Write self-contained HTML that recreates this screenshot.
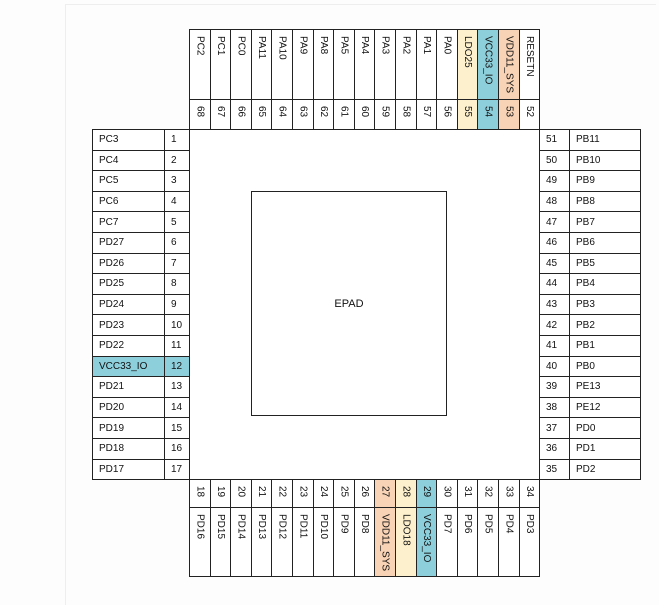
<!DOCTYPE html>
<html><head><meta charset="utf-8"><style>
body{margin:0;width:659px;height:596px;background:#fdfdfd;position:relative;overflow:hidden;font-family:"Liberation Sans",Arial,sans-serif;font-size:10px;color:#111}
.b{position:absolute;box-sizing:border-box;border:1px solid #222;background:#fff}
.h{display:flex;align-items:center;padding-left:6px}
.v{writing-mode:vertical-rl;display:flex;align-items:center;padding-top:6px}
.y{background:#fdf0cc}.c{background:#8ecfdc}.o{background:#f9d3b5}
</style></head><body>
<div style="position:absolute;left:65px;top:4px;width:590px;height:600px;border-left:1px solid #eee;border-top:1px solid #eee"></div>
<div class="b" style="left:189px;top:129px;width:351px;height:351px"></div>
<div class="b" style="left:251px;top:191px;width:196px;height:225px;border-width:1.5px;display:flex;align-items:center;justify-content:center;font-size:11px">EPAD</div>

<!-- top -->
<div class="b v" style="left:189.0px;top:29px;width:21.6px;height:71px">PC2</div><div class="b v" style="left:189.0px;top:99px;width:21.6px;height:31px">68</div>
<div class="b v" style="left:209.6px;top:29px;width:21.6px;height:71px">PC1</div><div class="b v" style="left:209.6px;top:99px;width:21.6px;height:31px">67</div>
<div class="b v" style="left:230.2px;top:29px;width:21.6px;height:71px">PC0</div><div class="b v" style="left:230.2px;top:99px;width:21.6px;height:31px">66</div>
<div class="b v" style="left:250.8px;top:29px;width:21.6px;height:71px">PA11</div><div class="b v" style="left:250.8px;top:99px;width:21.6px;height:31px">65</div>
<div class="b v" style="left:271.4px;top:29px;width:21.6px;height:71px">PA10</div><div class="b v" style="left:271.4px;top:99px;width:21.6px;height:31px">64</div>
<div class="b v" style="left:292.0px;top:29px;width:21.6px;height:71px">PA9</div><div class="b v" style="left:292.0px;top:99px;width:21.6px;height:31px">63</div>
<div class="b v" style="left:312.6px;top:29px;width:21.6px;height:71px">PA8</div><div class="b v" style="left:312.6px;top:99px;width:21.6px;height:31px">62</div>
<div class="b v" style="left:333.2px;top:29px;width:21.6px;height:71px">PA5</div><div class="b v" style="left:333.2px;top:99px;width:21.6px;height:31px">61</div>
<div class="b v" style="left:353.8px;top:29px;width:21.6px;height:71px">PA4</div><div class="b v" style="left:353.8px;top:99px;width:21.6px;height:31px">60</div>
<div class="b v" style="left:374.4px;top:29px;width:21.6px;height:71px">PA3</div><div class="b v" style="left:374.4px;top:99px;width:21.6px;height:31px">59</div>
<div class="b v" style="left:395.0px;top:29px;width:21.6px;height:71px">PA2</div><div class="b v" style="left:395.0px;top:99px;width:21.6px;height:31px">58</div>
<div class="b v" style="left:415.6px;top:29px;width:21.6px;height:71px">PA1</div><div class="b v" style="left:415.6px;top:99px;width:21.6px;height:31px">57</div>
<div class="b v" style="left:436.2px;top:29px;width:21.6px;height:71px">PA0</div><div class="b v" style="left:436.2px;top:99px;width:21.6px;height:31px">56</div>
<div class="b v y" style="left:456.8px;top:29px;width:21.6px;height:71px">LDO25</div><div class="b v y" style="left:456.8px;top:99px;width:21.6px;height:31px">55</div>
<div class="b v c" style="left:477.4px;top:29px;width:21.6px;height:71px">VCC33_IO</div><div class="b v c" style="left:477.4px;top:99px;width:21.6px;height:31px">54</div>
<div class="b v o" style="left:498.0px;top:29px;width:21.6px;height:71px">VDD11_SYS</div><div class="b v o" style="left:498.0px;top:99px;width:21.6px;height:31px">53</div>
<div class="b v" style="left:518.6px;top:29px;width:21.4px;height:71px">RESETN</div><div class="b v" style="left:518.6px;top:99px;width:21.4px;height:31px">52</div>

<!-- left -->
<div class="b h" style="left:92px;top:129.0px;width:73px;height:21.6px">PC3</div><div class="b h" style="left:164px;top:129.0px;width:26px;height:21.6px">1</div>
<div class="b h" style="left:92px;top:149.6px;width:73px;height:21.6px">PC4</div><div class="b h" style="left:164px;top:149.6px;width:26px;height:21.6px">2</div>
<div class="b h" style="left:92px;top:170.2px;width:73px;height:21.6px">PC5</div><div class="b h" style="left:164px;top:170.2px;width:26px;height:21.6px">3</div>
<div class="b h" style="left:92px;top:190.8px;width:73px;height:21.6px">PC6</div><div class="b h" style="left:164px;top:190.8px;width:26px;height:21.6px">4</div>
<div class="b h" style="left:92px;top:211.4px;width:73px;height:21.6px">PC7</div><div class="b h" style="left:164px;top:211.4px;width:26px;height:21.6px">5</div>
<div class="b h" style="left:92px;top:232.0px;width:73px;height:21.6px">PD27</div><div class="b h" style="left:164px;top:232.0px;width:26px;height:21.6px">6</div>
<div class="b h" style="left:92px;top:252.6px;width:73px;height:21.6px">PD26</div><div class="b h" style="left:164px;top:252.6px;width:26px;height:21.6px">7</div>
<div class="b h" style="left:92px;top:273.2px;width:73px;height:21.6px">PD25</div><div class="b h" style="left:164px;top:273.2px;width:26px;height:21.6px">8</div>
<div class="b h" style="left:92px;top:293.8px;width:73px;height:21.6px">PD24</div><div class="b h" style="left:164px;top:293.8px;width:26px;height:21.6px">9</div>
<div class="b h" style="left:92px;top:314.4px;width:73px;height:21.6px">PD23</div><div class="b h" style="left:164px;top:314.4px;width:26px;height:21.6px">10</div>
<div class="b h" style="left:92px;top:335.0px;width:73px;height:21.6px">PD22</div><div class="b h" style="left:164px;top:335.0px;width:26px;height:21.6px">11</div>
<div class="b h c" style="left:92px;top:355.6px;width:73px;height:21.6px">VCC33_IO</div><div class="b h c" style="left:164px;top:355.6px;width:26px;height:21.6px">12</div>
<div class="b h" style="left:92px;top:376.2px;width:73px;height:21.6px">PD21</div><div class="b h" style="left:164px;top:376.2px;width:26px;height:21.6px">13</div>
<div class="b h" style="left:92px;top:396.8px;width:73px;height:21.6px">PD20</div><div class="b h" style="left:164px;top:396.8px;width:26px;height:21.6px">14</div>
<div class="b h" style="left:92px;top:417.4px;width:73px;height:21.6px">PD19</div><div class="b h" style="left:164px;top:417.4px;width:26px;height:21.6px">15</div>
<div class="b h" style="left:92px;top:438.0px;width:73px;height:21.6px">PD18</div><div class="b h" style="left:164px;top:438.0px;width:26px;height:21.6px">16</div>
<div class="b h" style="left:92px;top:458.6px;width:73px;height:21.4px">PD17</div><div class="b h" style="left:164px;top:458.6px;width:26px;height:21.4px">17</div>

<!-- right -->
<div class="b h" style="left:539px;top:129.0px;width:31px;height:21.6px">51</div><div class="b h" style="left:569px;top:129.0px;width:72px;height:21.6px">PB11</div>
<div class="b h" style="left:539px;top:149.6px;width:31px;height:21.6px">50</div><div class="b h" style="left:569px;top:149.6px;width:72px;height:21.6px">PB10</div>
<div class="b h" style="left:539px;top:170.2px;width:31px;height:21.6px">49</div><div class="b h" style="left:569px;top:170.2px;width:72px;height:21.6px">PB9</div>
<div class="b h" style="left:539px;top:190.8px;width:31px;height:21.6px">48</div><div class="b h" style="left:569px;top:190.8px;width:72px;height:21.6px">PB8</div>
<div class="b h" style="left:539px;top:211.4px;width:31px;height:21.6px">47</div><div class="b h" style="left:569px;top:211.4px;width:72px;height:21.6px">PB7</div>
<div class="b h" style="left:539px;top:232.0px;width:31px;height:21.6px">46</div><div class="b h" style="left:569px;top:232.0px;width:72px;height:21.6px">PB6</div>
<div class="b h" style="left:539px;top:252.6px;width:31px;height:21.6px">45</div><div class="b h" style="left:569px;top:252.6px;width:72px;height:21.6px">PB5</div>
<div class="b h" style="left:539px;top:273.2px;width:31px;height:21.6px">44</div><div class="b h" style="left:569px;top:273.2px;width:72px;height:21.6px">PB4</div>
<div class="b h" style="left:539px;top:293.8px;width:31px;height:21.6px">43</div><div class="b h" style="left:569px;top:293.8px;width:72px;height:21.6px">PB3</div>
<div class="b h" style="left:539px;top:314.4px;width:31px;height:21.6px">42</div><div class="b h" style="left:569px;top:314.4px;width:72px;height:21.6px">PB2</div>
<div class="b h" style="left:539px;top:335.0px;width:31px;height:21.6px">41</div><div class="b h" style="left:569px;top:335.0px;width:72px;height:21.6px">PB1</div>
<div class="b h" style="left:539px;top:355.6px;width:31px;height:21.6px">40</div><div class="b h" style="left:569px;top:355.6px;width:72px;height:21.6px">PB0</div>
<div class="b h" style="left:539px;top:376.2px;width:31px;height:21.6px">39</div><div class="b h" style="left:569px;top:376.2px;width:72px;height:21.6px">PE13</div>
<div class="b h" style="left:539px;top:396.8px;width:31px;height:21.6px">38</div><div class="b h" style="left:569px;top:396.8px;width:72px;height:21.6px">PE12</div>
<div class="b h" style="left:539px;top:417.4px;width:31px;height:21.6px">37</div><div class="b h" style="left:569px;top:417.4px;width:72px;height:21.6px">PD0</div>
<div class="b h" style="left:539px;top:438.0px;width:31px;height:21.6px">36</div><div class="b h" style="left:569px;top:438.0px;width:72px;height:21.6px">PD1</div>
<div class="b h" style="left:539px;top:458.6px;width:31px;height:21.4px">35</div><div class="b h" style="left:569px;top:458.6px;width:72px;height:21.4px">PD2</div>

<!-- bottom -->
<div class="b v" style="left:189.0px;top:479px;width:21.6px;height:29px">18</div><div class="b v" style="left:189.0px;top:507px;width:21.6px;height:70px">PD16</div>
<div class="b v" style="left:209.6px;top:479px;width:21.6px;height:29px">19</div><div class="b v" style="left:209.6px;top:507px;width:21.6px;height:70px">PD15</div>
<div class="b v" style="left:230.2px;top:479px;width:21.6px;height:29px">20</div><div class="b v" style="left:230.2px;top:507px;width:21.6px;height:70px">PD14</div>
<div class="b v" style="left:250.8px;top:479px;width:21.6px;height:29px">21</div><div class="b v" style="left:250.8px;top:507px;width:21.6px;height:70px">PD13</div>
<div class="b v" style="left:271.4px;top:479px;width:21.6px;height:29px">22</div><div class="b v" style="left:271.4px;top:507px;width:21.6px;height:70px">PD12</div>
<div class="b v" style="left:292.0px;top:479px;width:21.6px;height:29px">23</div><div class="b v" style="left:292.0px;top:507px;width:21.6px;height:70px">PD11</div>
<div class="b v" style="left:312.6px;top:479px;width:21.6px;height:29px">24</div><div class="b v" style="left:312.6px;top:507px;width:21.6px;height:70px">PD10</div>
<div class="b v" style="left:333.2px;top:479px;width:21.6px;height:29px">25</div><div class="b v" style="left:333.2px;top:507px;width:21.6px;height:70px">PD9</div>
<div class="b v" style="left:353.8px;top:479px;width:21.6px;height:29px">26</div><div class="b v" style="left:353.8px;top:507px;width:21.6px;height:70px">PD8</div>
<div class="b v o" style="left:374.4px;top:479px;width:21.6px;height:29px">27</div><div class="b v o" style="left:374.4px;top:507px;width:21.6px;height:70px">VDD11_SYS</div>
<div class="b v y" style="left:395.0px;top:479px;width:21.6px;height:29px">28</div><div class="b v y" style="left:395.0px;top:507px;width:21.6px;height:70px">LDO18</div>
<div class="b v c" style="left:415.6px;top:479px;width:21.6px;height:29px">29</div><div class="b v c" style="left:415.6px;top:507px;width:21.6px;height:70px">VCC33_IO</div>
<div class="b v" style="left:436.2px;top:479px;width:21.6px;height:29px">30</div><div class="b v" style="left:436.2px;top:507px;width:21.6px;height:70px">PD7</div>
<div class="b v" style="left:456.8px;top:479px;width:21.6px;height:29px">31</div><div class="b v" style="left:456.8px;top:507px;width:21.6px;height:70px">PD6</div>
<div class="b v" style="left:477.4px;top:479px;width:21.6px;height:29px">32</div><div class="b v" style="left:477.4px;top:507px;width:21.6px;height:70px">PD5</div>
<div class="b v" style="left:498.0px;top:479px;width:21.6px;height:29px">33</div><div class="b v" style="left:498.0px;top:507px;width:21.6px;height:70px">PD4</div>
<div class="b v" style="left:518.6px;top:479px;width:21.4px;height:29px">34</div><div class="b v" style="left:518.6px;top:507px;width:21.4px;height:70px">PD3</div>
</body></html>
